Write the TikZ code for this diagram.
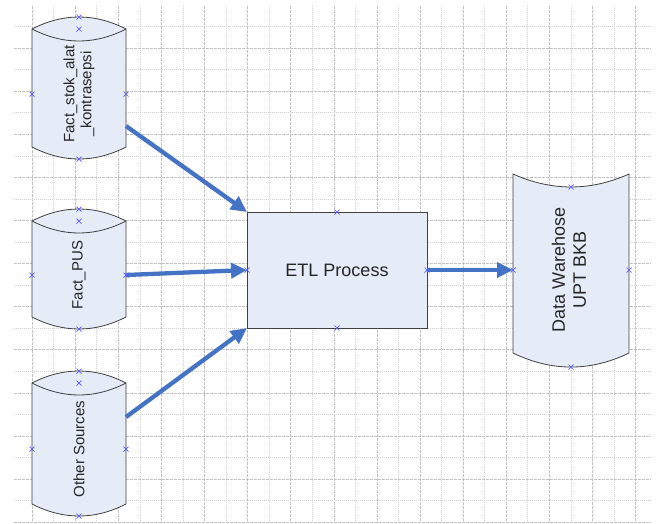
\documentclass[tikz,border=0pt]{standalone}
\usepackage{fontspec}
\setmainfont{Liberation Sans}
\usetikzlibrary{arrows.meta,calc}

\definecolor{shapefill}{RGB}{229,235,247}
\definecolor{edgegray}{RGB}{64,64,64}
\definecolor{flowblue}{RGB}{68,114,196}
\definecolor{ptblue}{RGB}{90,90,255}
\definecolor{gridmajor}{RGB}{192,192,192}
\definecolor{gridminor}{RGB}{208,208,208}

% drum-shaped data store drawn round a body node (arc bulge 12pt),
% with its connection points named #1p1 ... #1p5
\newcommand{\drumshape}[2]{%
  \path[outline] (#1.north west)
     .. controls ($(#1.north west)+(31.3,16)$) and ($(#1.north east)+(-31.3,16)$) .. (#1.north east)
     -- (#1.south east)
     .. controls ($(#1.south east)+(-31.3,-16)$) and ($(#1.south west)+(31.3,-16)$) .. (#1.south west)
     -- cycle;
  \draw[edge] (#1.north west)
     .. controls ($(#1.north west)+(31.3,-16)$) and ($(#1.north east)+(-31.3,-16)$) .. (#1.north east);
  \coordinate (#1p1) at ($(#1.north)+(0,12)$);
  \coordinate (#1p2) at (#1.north);
  \coordinate (#1p3) at ($(#1.south)+(0,-12)$);
  \coordinate (#1p4) at ($(#1.west)+(0,#2)$);
  \coordinate (#1p5) at ($(#1.east)+(0,#2)$);
}

\begin{document}
\begin{tikzpicture}[x=1pt,y=1pt,
  body/.style={inner sep=0pt, outer sep=0pt},
  outline/.style={draw=edgegray, fill=shapefill, line width=0.8pt},
  edge/.style={draw=edgegray, line width=0.8pt},
  flow/.style={draw=flowblue, line width=4.3pt, -{Triangle[length=16pt,width=15pt]}},
  conn/.style={draw=ptblue, line width=0.7pt},
  vlabel/.style={rotate=90, align=center, inner sep=0pt, text=black!85,
                 font=\fontsize{15}{17}\selectfont},
  majorgrid/.style={draw=gridmajor, line width=1pt, dash pattern=on 3pt off 1pt},
  minorgrid/.style={draw=gridminor, line width=1pt, dash pattern=on 1pt off 1pt},
]
\useasboundingbox (0,0) rectangle (660,-523);
\fill[white] (0,0) rectangle (660,-523);

% background grid
\foreach \k in {0,...,28}{
  \pgfmathsetmacro\gx{32.3+21.55*\k}
  \ifodd\k
    \draw[minorgrid] (\gx,-6) -- (\gx,-523);
  \else
    \draw[majorgrid] (\gx,-6) -- (\gx,-523);
  \fi
}
\foreach \k in {0,...,23}{
  \pgfmathsetmacro\gy{26.7+21.55*\k}
  \ifodd\k
    \draw[majorgrid] (14,-\gy) -- (651,-\gy);
  \else
    \draw[minorgrid] (14,-\gy) -- (651,-\gy);
  \fi
}

% source tables
\node[body, minimum width=94pt, minimum height=118pt] (c1) at (79,-88) {};
\node[body, minimum width=94pt, minimum height=96pt]  (c2) at (79,-269) {};
\node[body, minimum width=94pt, minimum height=121pt] (c3) at (79,-443.5) {};
\drumshape{c1}{-6}
\drumshape{c2}{-6}
\drumshape{c3}{-5.5}
\node[vlabel] (c1t) at (79,-94)  {Fact\_stok\_alat\\\_kontrasepsi};
\node[vlabel] (c2t) at (79,-275) {Fact\_PUS};
\node[vlabel] (c3t) at (79,-449) {Other Sources};

% ETL step
\node[draw=edgegray, fill=shapefill, line width=1pt, minimum width=180pt, minimum height=116pt,
      inner sep=0pt, outer sep=0pt, text=black!85, font=\fontsize{18}{21}\selectfont]
      (etl) at (337,-270) {ETL Process};

% warehouse (stored data)
\node[body, minimum width=116pt, minimum height=193pt] (dw) at (571,-270.5) {};
\path[outline] (dw.north west)
   .. controls ($(dw.north west)+(38.7,-17.3)$) and ($(dw.north east)+(-38.7,-17.3)$) .. (dw.north east)
   -- ($(dw.south east)+(0,14)$)
   .. controls ($(dw.south east)+(-38.7,-4.7)$) and ($(dw.south west)+(38.7,-4.7)$) .. ($(dw.south west)+(0,14)$)
   -- cycle;
\coordinate (dwp1) at ($(dw.north)+(0,-13)$);
\coordinate (dwp2) at (dw.south);
\coordinate (dwp3) at (dw.west |- etl);
\coordinate (dwp4) at (dw.east |- etl);
\node[vlabel, font=\fontsize{18}{21}\selectfont] (dwt) at (569,-270) {Data Warehose\\UPT BKB};

% data flows
\draw[flow] ($(c1.east)+(0,-38)$) -- (etl.north west);
\draw[flow] (c2p5) -- (etl.west);
\draw[flow] ($(c3.east)+(0,26.5)$) -- (etl.south west);
\draw[flow] (etl.east) -- (dwp3);

% connection points
\foreach \p in {c1p1,c1p2,c1p3,c1p4,c1p5, c2p1,c2p2,c2p3,c2p4,c2p5,
                c3p1,c3p2,c3p3,c3p4,c3p5,
                etl.north,etl.south,etl.west,etl.east,
                dwp1,dwp2,dwp3,dwp4}{
  \draw[conn] (\p) +(-2.5,-2.5) -- +(2.5,2.5) +(-2.5,2.5) -- +(2.5,-2.5);
}
\end{tikzpicture}
\end{document}
